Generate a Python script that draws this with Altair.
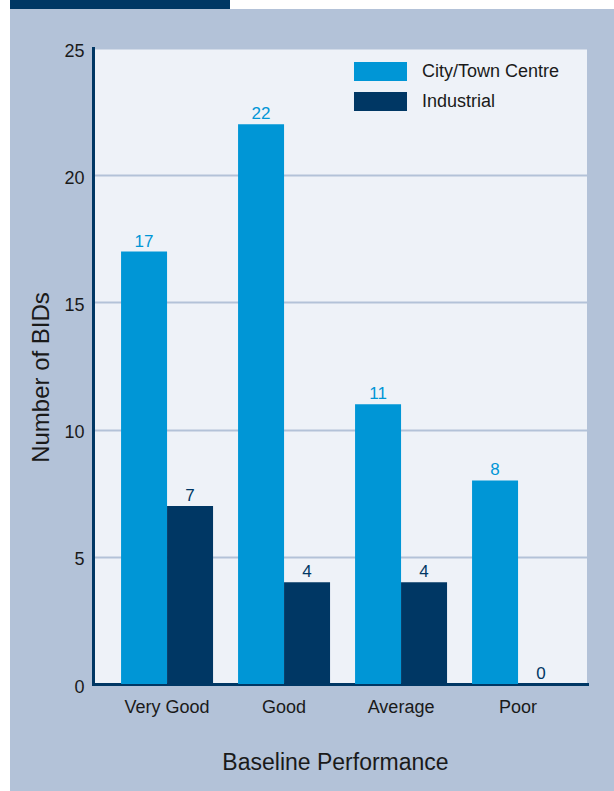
import altair as alt
import pandas as pd

# Number of BIDs by baseline performance, split by location type
categories = ["Very Good", "Good", "Average", "Poor"]
series = ["City/Town Centre", "Industrial"]
city_values = [17, 22, 11, 8]
industrial_values = [7, 4, 4, 0]
y_ticks = [0, 5, 10, 15, 20, 25]

CITY = "#0096d6"
NAVY = "#003764"
FRAME = "#b3c2d8"
PANEL = "#eef2f8"
FONT = "Liberation Sans"

rows = []
for cat, c, i in zip(categories, city_values, industrial_values):
    rows.append({"perf": cat, "type": series[0], "bids": c})
    rows.append({"perf": cat, "type": series[1], "bids": i})
df = pd.DataFrame(rows)

color_scale = alt.Scale(domain=series, range=[CITY, NAVY])

base = alt.Chart(df).encode(
    x=alt.X(
        "perf:N",
        sort=categories,
        scale=alt.Scale(paddingInner=0.2137, paddingOuter=0.218, align=0.55),
        axis=alt.Axis(
            title="Baseline Performance",
            labelAngle=0,
            ticks=False,
            tickSize=0,
            labelBaseline="alphabetic",
            labelPadding=28,
            labelFontSize=18,
            labelColor="#1a1a1a",
            labelFont=FONT,
            titleFont=FONT,
            titleFontSize=23,
            titleFontWeight="normal",
            titleColor="#1a1a1a",
            titleBaseline="alphabetic",
            titleX=242,
            titleY=85,
            domainColor=NAVY,
            domainWidth=3,
            domainCap="square",
            grid=False,
        ),
    ),
    xOffset=alt.XOffset("type:N", sort=series, scale=alt.Scale(domain=series, paddingInner=0, paddingOuter=0)),
    y=alt.Y(
        "bids:Q",
        scale=alt.Scale(domain=[0, 25], nice=False),
        axis=alt.Axis(
            title="Number of BIDs",
            values=y_ticks,
            ticks=False,
            tickSize=0,
            labelPadding=9,
            labelBaseline="alphabetic",
            labelOffset=8,
            labelFontSize=18,
            labelColor="#1a1a1a",
            labelFont=FONT,
            titleFont=FONT,
            titleFontSize=24,
            titleFontWeight="normal",
            titleColor="#1a1a1a",
            titleAngle=-90,
            titleBaseline="middle",
            titleAlign="center",
            titleX=-52,
            titleY=329,
            domainColor=NAVY,
            domainWidth=3,
            domainCap="square",
            gridColor=FRAME,
            gridWidth=2,
        ),
    ),
)

bars = base.mark_bar().encode(
    color=alt.Color(
        "type:N",
        scale=color_scale,
        sort=series,
        legend=alt.Legend(
            title=None,
            orient="none",
            legendX=278,
            legendY=14,
            symbolType="M-2.79,-1L2.79,-1L2.79,1L-2.79,1Z",
            symbolSize=361,
            symbolStrokeWidth=0,
            symbolOpacity=1,
            labelOffset=32,
            rowPadding=11,
            labelFont=FONT,
            labelFontSize=18,
            labelColor="#1a1a1a",
        ),
    )
)

labels = base.mark_text(baseline="alphabetic", dy=-5, fontSize=17, font=FONT).encode(
    text=alt.Text("bids:Q"),
    color=alt.Color("type:N", scale=color_scale, legend=None),
)

# page frame: white margins and the navy tab along the top edge
one = pd.DataFrame({"k": [0]})
left_strip = alt.Chart(one).mark_rect(color="white").encode(
    x=alt.value(-93), x2=alt.value(-83), y=alt.value(-48), y2=alt.value(743)
)
top_strip = alt.Chart(one).mark_rect(color="white").encode(
    x=alt.value(-93), x2=alt.value(521), y=alt.value(-48), y2=alt.value(-39)
)
tab = alt.Chart(one).mark_rect(color=NAVY).encode(
    x=alt.value(-83), x2=alt.value(137), y=alt.value(-48), y2=alt.value(-39)
)

chart = (
    alt.layer(left_strip, top_strip, tab, bars, labels)
    .properties(
        width=494,
        height=636,
        background=FRAME,
        padding={"left": 93, "top": 48, "right": 27, "bottom": 107},
        autosize=alt.AutoSizeParams(type="none"),
    )
    .configure_view(fill=PANEL, stroke=None)
)

chart.save("out.html", embed_options={"renderer": "svg", "actions": False})
